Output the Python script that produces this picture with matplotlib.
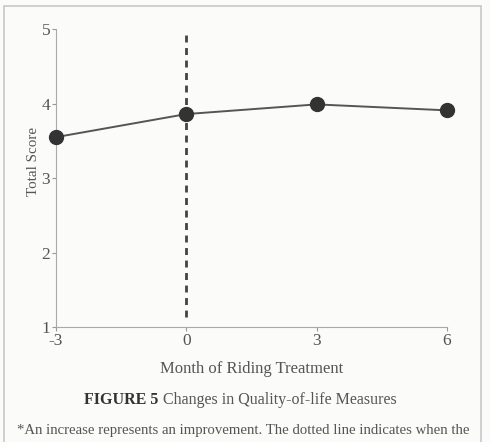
import matplotlib.pyplot as plt
from matplotlib.patches import Rectangle

# Data
months = [-3, 0, 3, 6]
scores = [3.55, 3.86, 3.99, 3.91]
xticks = [-3, 0, 3, 6]
yticks = [1, 2, 3, 4, 5]

plt.rcParams["font.family"] = ["Liberation Serif", "DejaVu Serif"]
text_col = "#555555"

fig = plt.figure(figsize=(4.9, 4.42), dpi=100)
fig.patch.set_facecolor("#fbfbfa")

# light frame around the figure
fig.patches.append(Rectangle((0.008, -0.05), 0.974, 1.037, transform=fig.transFigure,
                             fill=False, edgecolor="#c8c8c8", linewidth=1.2))

ax = fig.add_axes([0.114, 0.260, 0.798, 0.674])
ax.set_facecolor("none")

ax.axvline(0, color="#444444", linestyle=(0, (2.5, 2)), linewidth=2.0, ymin=0.035, ymax=0.99)
ax.plot(months, scores, color="#555555", linewidth=1.4, marker="o", clip_on=False,
        markersize=10, markerfacecolor="#333333", markeredgecolor="#333333", zorder=3)

ax.set_xlim(-3, 6)
ax.set_ylim(1, 5)
ax.set_xticks(xticks)
ax.set_yticks(yticks)
ax.set_xticklabels([str(t) for t in xticks])
ax.tick_params(colors="#999999", labelcolor=text_col, labelsize=12.5, length=3, pad=1)

for side in ["top", "right"]:
    ax.spines[side].set_visible(False)
for side in ["left", "bottom"]:
    ax.spines[side].set_color("#aaaaaa")

ax.set_xlabel("Month of Riding Treatment", fontsize=12, color=text_col, labelpad=9)
ax.set_ylabel("Total Score", fontsize=10.8, color=text_col)
ax.yaxis.set_label_coords(-0.04, 0.557)

fig.text(0.323, 0.095, "FIGURE 5", fontsize=11.5, fontweight="bold", color="#333333",
         ha="right", va="center")
fig.text(0.333, 0.095, "Changes in Quality-of-life Measures", fontsize=11.5,
         color=text_col, ha="left", va="center")
fig.text(0.035, 0.027, "*An increase represents an improvement. The dotted line indicates when the",
         fontsize=10.6, color=text_col, ha="left", va="center")

fig.savefig("out.png", dpi=100, facecolor=fig.get_facecolor())
plt.close(fig)
